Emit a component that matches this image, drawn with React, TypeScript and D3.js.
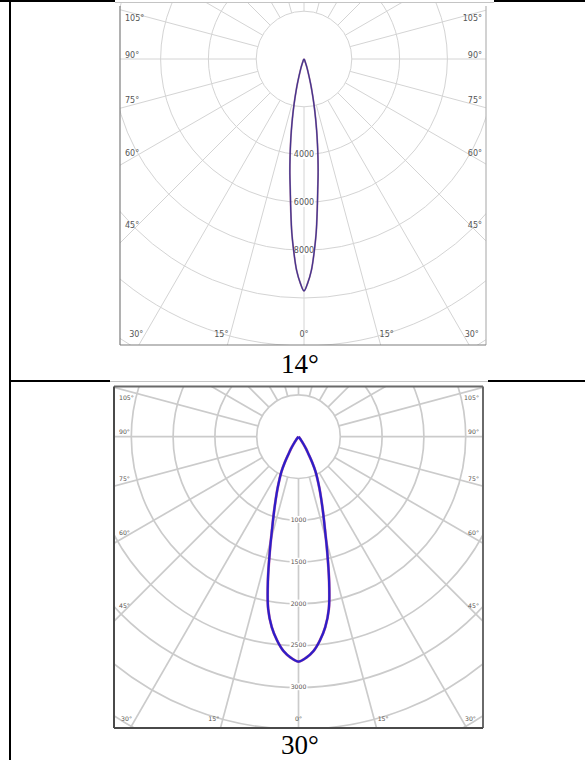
import React, {useEffect, useRef} from 'react';
import * as d3 from 'd3';

// Luminous intensity (cd) against angle from the beam axis
const ANGLES_14 = [0, 1, 2, 3, 4, 5, 6, 7, 8, 9, 10, 11, 12, 13, 14, 15, 16, 18, 20, 25, 30, 40, 50, 60, 90];
const CD_14 = [9700, 9350, 8850, 8100, 7300, 6350, 5500, 4850, 4200, 3600, 3050, 2550, 2100, 1700, 1350, 1050, 800, 480, 280, 90, 40, 15, 5, 0, 0];
const RINGS_14 = [2000, 4000, 6000, 8000, 10000, 12000, 14000, 16000];
const RING_LABELS_14 = [4000, 6000, 8000];

const ANGLES_30 = [0, 2, 4, 6, 8, 10, 12, 14, 16, 18, 20, 22, 24, 26, 28, 30, 32, 34, 36, 38, 40, 45, 90];
const CD_30 = [2690, 2645, 2570, 2450, 2300, 2090, 1760, 1420, 1145, 950, 795, 670, 560, 465, 350, 235, 170, 105, 55, 20, 8, 0, 0];
const RINGS_30 = [500, 1000, 1500, 2000, 2500, 3000, 3500, 4000, 4500];
const RING_LABELS_30 = [1000, 1500, 2000, 2500, 3000];

const ANGLE_TICKS = [0, 15, 30, 45, 60, 75, 90, 105];
const SPOKE_STEP = 15;
const CAPTIONS = ['14°', '30°'];

interface PolarSpec {
    angles: number[];
    cd: number[];
    rings: number[];
    ringLabels: number[];
    cx: number;
    cy: number;
    ringPx: number; // radius of the first ring
    x0: number;
    x1: number;
    y0: number;
    y1: number;
    clipTop: number;
    drawTop: boolean;
    gridColor: string;
    gridWidth: number;
    frameColor: string;
    frameDark: string;
    frameWidth: number;
    labelColor: string;
    fontSize: number;
    sideInset: number;
    bottomInset: number;
    curveColor: string;
    curveWidth: number;
    underColor: string;
}

const SPEC_14: PolarSpec = {
    angles: ANGLES_14, cd: CD_14, rings: RINGS_14, ringLabels: RING_LABELS_14,
    cx: 304, cy: 59, ringPx: 47.8,
    x0: 120, x1: 486, y0: 6, y1: 345, clipTop: 3, drawTop: false,
    gridColor: '#d4d4d4', gridWidth: 1,
    frameColor: '#b4b4b4', frameDark: '#7c7c7c', frameWidth: 1.2,
    labelColor: '#555', fontSize: 8,
    sideInset: 12, bottomInset: 11,
    curveColor: '#44348e', curveWidth: 1.3, underColor: '#8a3a6a',
};

const SPEC_30: PolarSpec = {
    angles: ANGLES_30, cd: CD_30, rings: RINGS_30, ringLabels: RING_LABELS_30,
    cx: 298.5, cy: 436.7, ringPx: 41.8,
    x0: 114, x1: 483, y0: 386.5, y1: 728, clipTop: 386.5, drawTop: true,
    gridColor: '#cbcbcb', gridWidth: 1.7,
    frameColor: '#6a6a6a', frameDark: '#4a4a4a', frameWidth: 2,
    labelColor: '#585450', fontSize: 6.2,
    sideInset: 11, bottomInset: 9,
    curveColor: '#2e1ec8', curveWidth: 2.3, underColor: '#c0206a',
};

const rad = (deg: number) => (deg * Math.PI) / 180;

const App: React.FC = () => {
    const svgRef = useRef<SVGSVGElement | null>(null);

    useEffect(() => {
        if (svgRef.current) {
            const svg = d3.select(svgRef.current);
            svg.selectAll('*').remove();
            drawTable(svg);
            drawPolar(svg, SPEC_14, 'clip14');
            drawPolar(svg, SPEC_30, 'clip30');
            drawCaptions(svg);
        }
    }, []);

    const drawTable = (svg: d3.Selection<SVGSVGElement, unknown, null, undefined>) => {
        const t = svg.append('g').attr('stroke', '#000').attr('stroke-width', 2);
        t.append('line').attr('x1', 10).attr('y1', 0).attr('x2', 10).attr('y2', 760);
        t.append('line').attr('x1', 0).attr('y1', 1).attr('x2', 585).attr('y2', 1);
        t.append('line').attr('x1', 9).attr('y1', 381).attr('x2', 585).attr('y2', 381);

        // the pasted pictures sit over the cell borders
        svg.append('rect').attr('x', 115).attr('y', 0).attr('width', 379).attr('height', 5).attr('fill', '#fff');
        svg.append('line').attr('x1', 115).attr('x2', 494).attr('y1', 2.5).attr('y2', 2.5)
            .attr('stroke', '#c4c4c4').attr('stroke-width', 1);
        svg.append('rect').attr('x', 110).attr('y', 379).attr('width', 378).attr('height', 7).attr('fill', '#fff');
        svg.append('line').attr('x1', 110).attr('x2', 488).attr('y1', 381.5).attr('y2', 381.5)
            .attr('stroke', '#c4c4c4').attr('stroke-width', 1);
    };

    const drawPolar = (
        svg: d3.Selection<SVGSVGElement, unknown, null, undefined>,
        spec: PolarSpec,
        id: string
    ) => {
        const {cx, cy, x0, x1, y0, y1} = spec;
        const r = d3.scaleLinear().domain([0, spec.rings[0]]).range([0, spec.ringPx]);

        svg.append('defs').append('clipPath').attr('id', id)
            .append('rect')
            .attr('x', x0).attr('y', spec.clipTop)
            .attr('width', x1 - x0).attr('height', y1 - spec.clipTop);

        const grid = svg.append('g')
            .attr('clip-path', `url(#${id})`)
            .attr('fill', 'none')
            .attr('stroke', spec.gridColor)
            .attr('stroke-width', spec.gridWidth);

        grid.selectAll('circle').data(spec.rings).enter().append('circle')
            .attr('cx', cx).attr('cy', cy).attr('r', (d) => r(d));

        const r0 = r(spec.rings[0]);
        grid.selectAll('line').data(d3.range(0, 360, SPOKE_STEP)).enter().append('line')
            .attr('x1', (d) => cx + r0 * Math.sin(rad(d)))
            .attr('y1', (d) => cy + r0 * Math.cos(rad(d)))
            .attr('x2', (d) => cx + 900 * Math.sin(rad(d)))
            .attr('y2', (d) => cy + 900 * Math.cos(rad(d)));

        // frame
        const frame = svg.append('g').attr('fill', 'none').attr('stroke-width', spec.frameWidth);
        if (spec.drawTop) {
            frame.append('line').attr('x1', x0).attr('x2', x1).attr('y1', y0).attr('y2', y0).attr('stroke', spec.frameColor);
        }
        frame.append('line').attr('x1', x1).attr('x2', x1).attr('y1', y0).attr('y2', y1).attr('stroke', spec.frameColor);
        frame.append('line').attr('x1', x0).attr('x2', x0).attr('y1', y0).attr('y2', y1).attr('stroke', spec.frameDark);
        frame.append('line').attr('x1', x0).attr('x2', x1).attr('y1', y1).attr('y2', y1).attr('stroke', spec.frameDark);

        // angle labels where each ray meets the inset frame
        const labels = svg.append('g')
            .style('font-family', 'Verdana, "DejaVu Sans", sans-serif')
            .style('font-size', `${spec.fontSize}px`)
            .attr('fill', spec.labelColor);
        const halfW = Math.min(cx - x0, x1 - cx) - spec.sideInset;
        const bottomY = y1 - spec.bottomInset;
        ANGLE_TICKS.forEach((a) => {
            const sides = a === 0 ? [1] : [-1, 1];
            sides.forEach((s) => {
                const sn = Math.sin(rad(a));
                const cs = Math.cos(rad(a));
                const tSide = sn > 1e-6 ? halfW / sn : Infinity;
                const tBottom = cs > 1e-6 ? (bottomY - cy) / cs : Infinity;
                const txt = labels.append('text').attr('dominant-baseline', 'middle').text(`${a}°`);
                if (tBottom <= tSide) {
                    const x = cx + s * (tBottom * sn + (a === 0 ? 0 : 9));
                    txt.attr('x', x).attr('y', bottomY).attr('text-anchor', 'middle');
                } else {
                    const y = Math.max(y0 + 12, cy + tSide * cs - 4);
                    if (s < 0) {
                        txt.attr('x', x0 + 5).attr('y', y).attr('text-anchor', 'start');
                    } else {
                        txt.attr('x', x1 - 4).attr('y', y).attr('text-anchor', 'end');
                    }
                }
            });
        });

        // intensity values along the axis
        const values = svg.append('g')
            .style('font-family', 'Verdana, "DejaVu Sans", sans-serif')
            .style('font-size', `${spec.fontSize}px`);
        spec.ringLabels.forEach((v) => {
            const item = values.append('g');
            const bg = item.append('rect').attr('fill', '#fff');
            const txt = item.append('text')
                .attr('x', cx).attr('y', cy + r(v))
                .attr('text-anchor', 'middle')
                .attr('dominant-baseline', 'middle')
                .attr('fill', spec.labelColor)
                .text(String(v));
            const box = (txt.node() as SVGTextElement).getBBox();
            bg.attr('x', box.x - 1).attr('y', box.y).attr('width', box.width + 2).attr('height', box.height);
        });

        // C0-C180 curve, mirrored about the axis
        const right: [number, number][] = spec.angles.map((a, i) => [Math.PI - rad(a), r(spec.cd[i])]);
        const left: [number, number][] = spec.angles.slice(1).map((a, i) => [Math.PI + rad(a), r(spec.cd[i + 1])]).reverse();
        const pts = [...left, ...right];
        const line = d3.lineRadial<[number, number]>()
            .angle((d) => d[0])
            .radius((d) => d[1])
            .curve(d3.curveCatmullRom.alpha(0.5));
        const curve = svg.append('g').attr('transform', `translate(${cx},${cy})`).attr('fill', 'none');
        curve.append('path').attr('d', line(pts) as string)
            .attr('stroke', spec.underColor).attr('stroke-width', spec.curveWidth + 0.5).attr('opacity', 0.6);
        curve.append('path').attr('d', line(pts) as string)
            .attr('stroke', spec.curveColor).attr('stroke-width', spec.curveWidth);
    };

    const drawCaptions = (svg: d3.Selection<SVGSVGElement, unknown, null, undefined>) => {
        svg.selectAll('.caption').data(CAPTIONS).enter().append('text')
            .attr('class', 'caption')
            .attr('x', 300)
            .attr('y', (d, i) => (i === 0 ? 373 : 754))
            .attr('text-anchor', 'middle')
            .style('font-family', '"Times New Roman", "Liberation Serif", serif')
            .style('font-size', '27px')
            .attr('fill', '#000')
            .text((d) => d);
    };

    return (
        <svg ref={svgRef} width={585} height={760}
             style={{position: 'absolute', left: 0, top: 0, background: '#fff'}}></svg>
    );
};

export default App;
